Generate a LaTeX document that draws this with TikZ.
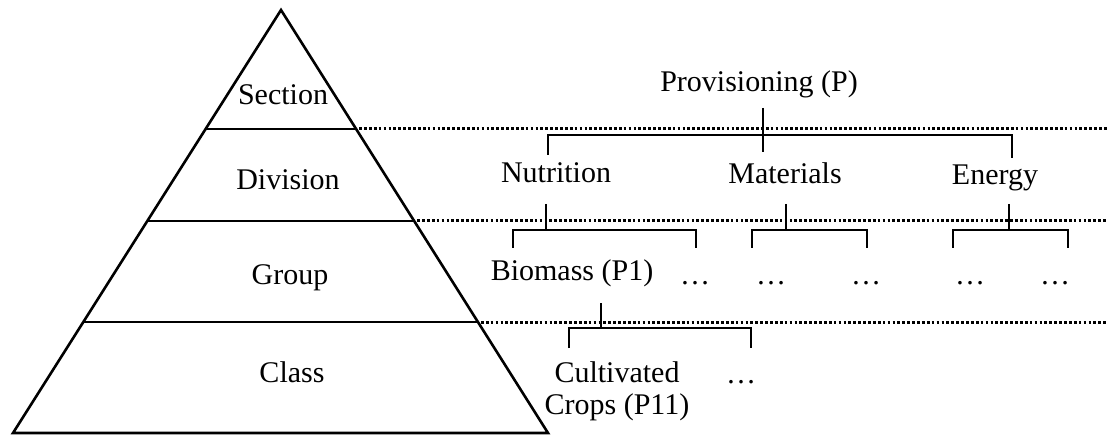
\documentclass[tikz,border=0pt]{standalone}
\usepackage{fontspec}
\setmainfont{Liberation Serif}
\usetikzlibrary{calc}
\begin{document}
\begin{tikzpicture}[x=1pt,y=-1pt,
  txt/.style={font=\fontsize{30}{32}\selectfont, inner sep=0pt, anchor=base, align=center},
  pyr/.style={line width=2.6pt, line join=miter},
  layer/.style={line width=2.6pt},
  dotline/.style={line width=3pt, dash pattern=on 2.7pt off 2.2pt},
  br/.style={line width=1.6pt}]
\useasboundingbox (0,0) rectangle (1107,435);
% pyramid
\coordinate (apex) at (281,10);
\coordinate (bl) at (13,433);
\coordinate (brc) at (548,433);
\coordinate (edge) at (1107,0);
\draw[pyr] (apex) -- (bl) -- (brc) -- cycle;
\draw[layer] ($(apex)!0.2813!(bl)$) coordinate (sL) -- ($(apex)!0.2813!(brc)$) coordinate (sR);
\draw[layer] ($(apex)!0.4988!(bl)$) coordinate (dL) -- ($(apex)!0.4988!(brc)$) coordinate (dR);
\draw[layer] ($(apex)!0.7376!(bl)$) coordinate (gL) -- ($(apex)!0.7376!(brc)$) coordinate (gR);
\draw[dotline] ($(sR)+(3,0)$) -- (sR -| edge);
\draw[dotline] ($(dR)+(3,0)$) -- (dR -| edge);
\draw[dotline] ($(gR)+(3,0)$) -- (gR -| edge);
% pyramid labels
\node[txt] (sec) at (283,105) {Section};
\node[txt] (div) at (288,190) {Division};
\node[txt] (grp) at (290,285) {Group};
\node[txt] (cls) at (292,382) {Class};
% hierarchy nodes
\node[txt] (P) at (759,92) {Provisioning (P)};
\node[txt] (nut) at (556,183) {Nutrition};
\node[txt] (mat) at (785,184) {Materials};
\node[txt] (ene) at (995,185) {Energy};
\node[txt] (bio) at (572,281) {Biomass (P1)};
\node[txt] (d1) at (695,284) {…};
\node[txt] (d2) at (771,284) {…};
\node[txt] (d3) at (866,285) {…};
\node[txt] (d4) at (970,285) {…};
\node[txt] (d5) at (1055,285) {…};
\node[txt] (crop) at (617,414) {Cultivated\\Crops (P11)};
\node[txt] (d6) at (741,383) {…};
% connectors
\coordinate (Ps) at (763,108); \coordinate (Pe) at (763,152);
\coordinate (Pb) at (763,135);
\coordinate (nutT) at (548,155); \coordinate (eneT) at (1012,158);
\draw[br] (Ps) -- (Pe);
\draw[br] (nutT) -- (nutT |- Pb) -- (eneT |- Pb) -- (eneT);
% nutrition
\coordinate (nS) at (546,204); \coordinate (nB) at (546,230);
\coordinate (bioT) at (513,248); \coordinate (d1T) at (696,248);
\draw[br] (nS) -- (nB);
\draw[br] (bioT) -- (bioT |- nB) -- (d1T |- nB) -- (d1T);
% materials
\coordinate (mS) at (786,204); \coordinate (mB) at (786,230);
\coordinate (d2T) at (752,248); \coordinate (d3T) at (867,248);
\draw[br] (mS) -- (mB);
\draw[br] (d2T) -- (d2T |- mB) -- (d3T |- mB) -- (d3T);
% energy
\coordinate (eS) at (1009,204); \coordinate (eB) at (1009,230);
\coordinate (d4T) at (953,248); \coordinate (d5T) at (1068,248);
\draw[br] (eS) -- (eB);
\draw[br] (d4T) -- (d4T |- eB) -- (d5T |- eB) -- (d5T);
% biomass
\coordinate (bS) at (601,303); \coordinate (bB) at (601,328);
\coordinate (cropT) at (569,348); \coordinate (d6T) at (751,348);
\draw[br] (bS) -- (bB);
\draw[br] (cropT) -- (cropT |- bB) -- (d6T |- bB) -- (d6T);
\end{tikzpicture}
\end{document}
